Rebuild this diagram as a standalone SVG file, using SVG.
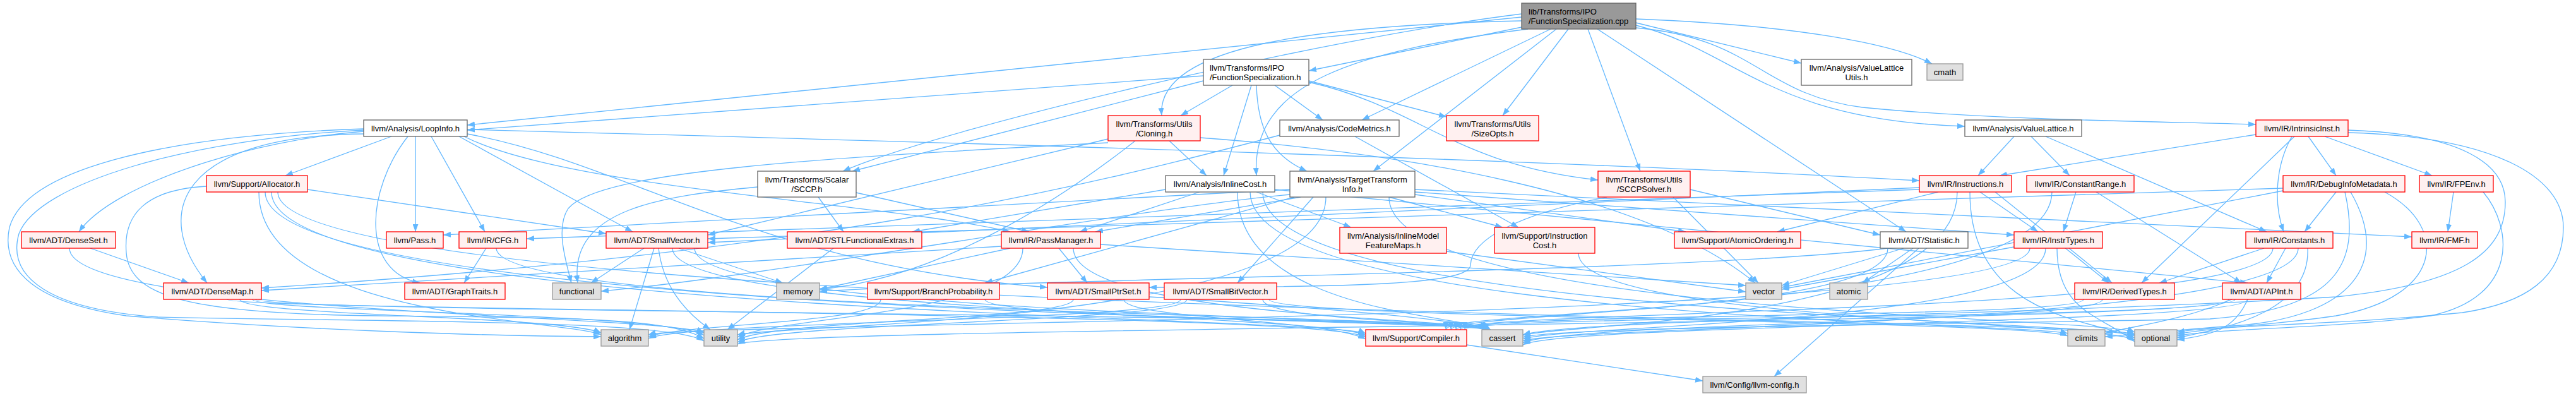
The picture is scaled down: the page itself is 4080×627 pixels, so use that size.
<svg xmlns="http://www.w3.org/2000/svg" width="4080" height="627" viewBox="0 0 4080 627">
<defs>
<marker id="a" viewBox="0 0 12 9" refX="12" refY="4.5" markerWidth="12" markerHeight="9" markerUnits="userSpaceOnUse" orient="auto"><path d="M0,0L12,4.5L0,9z" fill="#63b8ff"/></marker>
<style>
.e path{fill:none;stroke:#63b8ff;stroke-width:1.3;marker-end:url(#a)}
.node rect{stroke-width:1.3}
.r{fill:#fff0f0;stroke:#ff0000}
.w{fill:#ffffff;stroke:#666666}
.g{fill:#e0e0e0;stroke:#999999}
.m{fill:#999999;stroke:#666666}
text{font-family:"Liberation Sans",Arial,Helvetica,sans-serif;font-size:13px;fill:#000000;text-anchor:middle}
text.l{text-anchor:start}
</style>
</defs>
<rect x="0" y="0" width="4080" height="627" fill="#ffffff"/>
<g id="edges" class="e">
<path d="M2410,43 L2073,112"/>
<path d="M2530,46 L3019,367"/>
<path d="M2456,46 L2157,190"/>
<path d="M2420,46 C2150,80 1980,130 1990,278"/>
<path d="M2410,27 L740,198"/>
<path d="M2465,46 L2175,271"/>
<path d="M2591,40 C2750,80 2800,190 3112,200"/>
<path d="M2591,36 L2853,100"/>
<path d="M2591,44 C2780,60 2790,150 2950,170 C3150,190 3400,192 3573,197"/>
<path d="M2410,22 C2100,60 1500,200 1335,271"/>
<path d="M2410,33 C2100,40 1830,70 1840,183"/>
<path d="M2515,46 L2598,271"/>
<path d="M2484,46 L2380,183"/>
<path d="M2591,30 C2850,40 3000,70 3060,101"/>
<path d="M2019,135 L2095,190"/>
<path d="M1982,135 L1938,278"/>
<path d="M1906,120 L740,206"/>
<path d="M1990,135 C1992,200 2010,245 2070,271"/>
<path d="M1906,128 L1350,271"/>
<path d="M1952,135 L1870,183"/>
<path d="M2073,130 C2250,170 2300,260 2531,285"/>
<path d="M2073,128 L2291,185"/>
<path d="M576,212 C280,215 240,340 328,448"/>
<path d="M576,208 C400,222 180,290 125,367"/>
<path d="M646,216 C580,300 570,430 665,448"/>
<path d="M740,212 C1000,260 1200,420 1659,455"/>
<path d="M727,216 L1002,367"/>
<path d="M683,216 L768,367"/>
<path d="M740,205 C1500,225 2500,255 3040,286"/>
<path d="M735,216 C900,300 1400,320 1600,367"/>
<path d="M658,216 L658,367"/>
<path d="M620,216 L452,278"/>
<path d="M576,204 C250,215 40,270 15,360 C0,430 60,480 200,500 C500,525 800,532 952,533"/>
<path d="M576,206 C300,220 60,290 30,370 C10,440 80,490 250,502 C600,510 1060,505 1115,540"/>
<path d="M2027,214 C1700,300 1300,400 414,456"/>
<path d="M2146,216 L2405,360"/>
<path d="M3217,216 L3278,278"/>
<path d="M3240,216 L3590,367"/>
<path d="M3190,216 L3133,278"/>
<path d="M3630,216 C3605,260 3600,320 3617,367"/>
<path d="M3656,216 L3700,278"/>
<path d="M3634,216 L3392,448"/>
<path d="M3682,216 L3852,278"/>
<path d="M3573,213 L3167,278"/>
<path d="M3719,206 C3900,212 3968,260 3968,320 C3968,400 3900,450 3700,470 C3200,500 2500,505 2412,530"/>
<path d="M3719,210 C3950,216 4060,280 4060,360 C4060,440 4000,480 3900,495 C3700,515 3508,515 3448,526"/>
<path d="M1755,220 L1121,372"/>
<path d="M1852,223 L1911,278"/>
<path d="M1755,226 C1300,250 950,270 900,330 C880,360 895,410 905,448"/>
<path d="M1798,223 C1700,300 1500,440 1298,458"/>
<path d="M1901,218 C2200,240 2600,300 2780,448"/>
<path d="M1296,312 L1336,367"/>
<path d="M1356,305 L1630,367"/>
<path d="M1200,296 C1050,310 900,330 915,448"/>
<path d="M2080,312 L1960,448"/>
<path d="M2241,300 L3820,375"/>
<path d="M2241,304 L3190,372"/>
<path d="M2060,312 L1735,367"/>
<path d="M2043,300 L702,372"/>
<path d="M2241,308 L2670,367"/>
<path d="M2050,312 L1560,448"/>
<path d="M2200,312 L2380,360"/>
<path d="M2043,308 C1800,330 1200,440 952,461"/>
<path d="M2200,312 C2200,500 3321,500 3381,526"/>
<path d="M2100,312 C2100,514 1228,514 1168,530"/>
<path d="M2545,312 C2400,340 2330,380 2329,420 C2328,450 2150,455 1820,455"/>
<path d="M2677,300 L2978,372"/>
<path d="M2650,312 L2785,448"/>
<path d="M487,300 L960,370"/>
<path d="M430,304 C430,500 2103,500 2163,528"/>
<path d="M410,304 C410,505 892,505 952,530"/>
<path d="M420,304 C420,503 2335,503 2352,522"/>
<path d="M440,304 C440,502 3321,502 3381,529"/>
<path d="M327,295 C230,300 195,340 200,400 C205,470 300,497 600,500 C900,503 1060,503 1115,536"/>
<path d="M2019,300 L3560,448"/>
<path d="M1846,300 L1445,367"/>
<path d="M1990,304 L2140,360"/>
<path d="M1900,304 L1710,367"/>
<path d="M1960,304 C1960,500 2340,500 2355,522"/>
<path d="M1980,304 C1980,510 3215,510 3275,528"/>
<path d="M2000,304 C2000,504 3321,504 3381,532"/>
<path d="M3040,297 L1121,384"/>
<path d="M3040,300 L834,378"/>
<path d="M3160,304 L3340,448"/>
<path d="M3136,304 L3228,367"/>
<path d="M3070,304 L2815,367"/>
<path d="M3100,304 C3100,512 2472,512 2412,531"/>
<path d="M3120,304 C3120,506 3321,506 3381,535"/>
<path d="M3320,304 L3550,448"/>
<path d="M3288,304 L3268,367"/>
<path d="M3250,304 C3250,495 2298,490 2298,522"/>
<path d="M3616,298 L1121,378"/>
<path d="M3700,304 L3650,367"/>
<path d="M3714,304 C3740,420 3700,490 3500,505 C3000,515 2472,518 2412,534"/>
<path d="M3723,304 C3790,420 3720,500 3550,515 C3450,522 3380,530 3334,533"/>
<path d="M3777,304 C3880,360 3870,470 3700,500 C3600,515 3508,518 3448,529"/>
<path d="M3616,302 L2822,455"/>
<path d="M3886,304 L3877,367"/>
<path d="M3933,304 C3980,360 3990,470 3850,500 C3700,520 3508,520 3448,532"/>
<path d="M143,393 L299,448"/>
<path d="M110,393 C110,498 1055,498 1115,527"/>
<path d="M770,393 L735,448"/>
<path d="M786,393 C786,498 2335,498 2354,522"/>
<path d="M1065,393 C1065,496 2103,496 2163,531"/>
<path d="M1036,393 L997,522"/>
<path d="M1100,393 C1100,502 2338,502 2356,522"/>
<path d="M1020,393 L936,448"/>
<path d="M1075,393 L1240,448"/>
<path d="M1043,393 C1050,450 1080,490 1125,522"/>
<path d="M1320,393 L1152,522"/>
<path d="M1586,390 L414,460"/>
<path d="M1677,393 L1722,448"/>
<path d="M1700,393 C1700,504 2340,504 2358,522"/>
<path d="M1600,393 L1298,458"/>
<path d="M1620,393 C1620,500 1228,500 1168,534"/>
<path d="M1743,387 L2765,452"/>
<path d="M2291,398 L2765,462"/>
<path d="M2500,401 C2500,508 3321,508 3381,538"/>
<path d="M3039,393 L2810,596"/>
<path d="M2990,393 C2990,500 2290,490 2290,522"/>
<path d="M3030,393 L2950,448"/>
<path d="M2990,393 C2700,430 1700,440 1298,461"/>
<path d="M3015,393 L2822,452"/>
<path d="M3277,393 L3345,448"/>
<path d="M3215,393 C3215,510 1087,510 1027,530"/>
<path d="M3240,393 C3240,514 2472,514 2412,537"/>
<path d="M3258,393 C3258,495 3330,500 3381,541"/>
<path d="M3190,391 L2822,458"/>
<path d="M3620,393 L3590,448"/>
<path d="M3586,393 L3420,448"/>
<path d="M3600,393 C3600,500 2306,490 2306,522"/>
<path d="M3640,393 C3640,516 2472,516 2412,540"/>
<path d="M3655,393 C3660,500 3508,522 3448,535"/>
<path d="M360,474 C360,492 2103,492 2163,534"/>
<path d="M380,474 C380,500 892,500 952,527"/>
<path d="M405,474 C405,496 2336,496 2353,522"/>
<path d="M400,474 C400,494 1055,494 1115,531"/>
<path d="M1395,474 C1395,512 1087,512 1027,533"/>
<path d="M1560,474 C1560,507 2340,507 2358,522"/>
<path d="M1780,474 C1780,505 2103,505 2163,537"/>
<path d="M1820,470 C1900,475 2300,500 2360,522"/>
<path d="M1700,474 C1700,506 1228,506 1168,538"/>
<path d="M1870,474 C1870,508 1087,508 1027,536"/>
<path d="M2000,474 C2000,509 2342,509 2361,522"/>
<path d="M2010,474 C2010,506 3215,506 3275,532"/>
<path d="M1880,474 C1880,510 1228,510 1168,542"/>
<path d="M3300,474 C3300,505 2313,495 2313,522"/>
<path d="M3330,474 C3330,511 2472,511 2412,543"/>
<path d="M3530,474 C3530,508 2320,497 2320,522"/>
<path d="M3560,474 C3560,513 2472,513 2412,546"/>
<path d="M3535,474 C3450,510 3380,515 3334,528"/>
<path d="M3560,474 C3540,520 3508,530 3448,538"/>
<path d="M3540,474 C3540,516 1228,516 1168,545"/>
<path d="M2323,546 L2697,603"/>
</g>
<g id="n-main" class="node"><rect class="m" x="2410" y="5" width="181" height="41"/><text class="l" x="2421" y="23">lib/Transforms/IPO</text><text class="l" x="2421" y="38">/FunctionSpecialization.cpp</text></g>
<g id="n-fsh" class="node"><rect class="w" x="1906" y="94" width="167" height="41"/><text class="l" x="1916" y="112">llvm/Transforms/IPO</text><text class="l" x="1916" y="127">/FunctionSpecialization.h</text></g>
<g id="n-vlu" class="node"><rect class="w" x="2853" y="94" width="175" height="41"/><text x="2940.5" y="112">llvm/Analysis/ValueLattice</text><text x="2940.5" y="127">Utils.h</text></g>
<g id="n-cmath" class="node"><rect class="g" x="3052" y="101" width="57" height="26"/><text x="3080.5" y="119">cmath</text></g>
<g id="n-loopinfo" class="node"><rect class="w" x="576" y="190" width="164" height="26"/><text x="658" y="208">llvm/Analysis/LoopInfo.h</text></g>
<g id="n-codemetrics" class="node"><rect class="w" x="2027" y="190" width="189" height="26"/><text x="2121.5" y="208">llvm/Analysis/CodeMetrics.h</text></g>
<g id="n-valuelattice" class="node"><rect class="w" x="3112" y="190" width="185" height="26"/><text x="3204.5" y="208">llvm/Analysis/ValueLattice.h</text></g>
<g id="n-intrinsic" class="node"><rect class="r" x="3573" y="190" width="146" height="26"/><text x="3646" y="208">llvm/IR/IntrinsicInst.h</text></g>
<g id="n-cloning" class="node"><rect class="r" x="1755" y="183" width="146" height="40"/><text x="1828" y="200.5">llvm/Transforms/Utils</text><text x="1828" y="215.5">/Cloning.h</text></g>
<g id="n-sizeopts" class="node"><rect class="r" x="2291" y="183" width="146" height="40"/><text x="2364" y="200.5">llvm/Transforms/Utils</text><text x="2364" y="215.5">/SizeOpts.h</text></g>
<g id="n-sccp" class="node"><rect class="w" x="1200" y="271" width="156" height="41"/><text x="1278" y="289">llvm/Transforms/Scalar</text><text x="1278" y="304">/SCCP.h</text></g>
<g id="n-tti" class="node"><rect class="w" x="2043" y="271" width="198" height="41"/><text x="2142" y="289">llvm/Analysis/TargetTransform</text><text x="2142" y="304">Info.h</text></g>
<g id="n-sccpsolver" class="node"><rect class="r" x="2531" y="271" width="146" height="41"/><text x="2604" y="289">llvm/Transforms/Utils</text><text x="2604" y="304">/SCCPSolver.h</text></g>
<g id="n-allocator" class="node"><rect class="r" x="327" y="278" width="160" height="26"/><text x="407" y="296">llvm/Support/Allocator.h</text></g>
<g id="n-inlinecost" class="node"><rect class="w" x="1846" y="278" width="173" height="26"/><text x="1932.5" y="296">llvm/Analysis/InlineCost.h</text></g>
<g id="n-instructions" class="node"><rect class="r" x="3040" y="278" width="146" height="26"/><text x="3113" y="296">llvm/IR/Instructions.h</text></g>
<g id="n-constantrange" class="node"><rect class="r" x="3210" y="278" width="170" height="26"/><text x="3295" y="296">llvm/IR/ConstantRange.h</text></g>
<g id="n-debuginfo" class="node"><rect class="r" x="3616" y="278" width="193" height="26"/><text x="3712.5" y="296">llvm/IR/DebugInfoMetadata.h</text></g>
<g id="n-fpenv" class="node"><rect class="r" x="3832" y="278" width="117" height="26"/><text x="3890.5" y="296">llvm/IR/FPEnv.h</text></g>
<g id="n-denseset" class="node"><rect class="r" x="34" y="367" width="149" height="26"/><text x="108.5" y="385">llvm/ADT/DenseSet.h</text></g>
<g id="n-pass" class="node"><rect class="r" x="612" y="367" width="90" height="26"/><text x="657" y="385">llvm/Pass.h</text></g>
<g id="n-cfg" class="node"><rect class="r" x="727" y="367" width="107" height="26"/><text x="780.5" y="385">llvm/IR/CFG.h</text></g>
<g id="n-smallvector" class="node"><rect class="r" x="960" y="367" width="161" height="26"/><text x="1040.5" y="385">llvm/ADT/SmallVector.h</text></g>
<g id="n-stlfe" class="node"><rect class="r" x="1247" y="367" width="213" height="26"/><text x="1353.5" y="385">llvm/ADT/STLFunctionalExtras.h</text></g>
<g id="n-passmanager" class="node"><rect class="r" x="1586" y="367" width="157" height="26"/><text x="1664.5" y="385">llvm/IR/PassManager.h</text></g>
<g id="n-inlinemodel" class="node"><rect class="r" x="2122" y="360" width="169" height="41"/><text x="2206.5" y="378">llvm/Analysis/InlineModel</text><text x="2206.5" y="393">FeatureMaps.h</text></g>
<g id="n-instcost" class="node"><rect class="r" x="2367" y="360" width="159" height="41"/><text x="2446.5" y="378">llvm/Support/Instruction</text><text x="2446.5" y="393">Cost.h</text></g>
<g id="n-atomicord" class="node"><rect class="r" x="2652" y="367" width="200" height="26"/><text x="2752" y="385">llvm/Support/AtomicOrdering.h</text></g>
<g id="n-statistic" class="node"><rect class="w" x="2978" y="367" width="139" height="26"/><text x="3047.5" y="385">llvm/ADT/Statistic.h</text></g>
<g id="n-instrtypes" class="node"><rect class="r" x="3190" y="367" width="140" height="26"/><text x="3260" y="385">llvm/IR/InstrTypes.h</text></g>
<g id="n-constants" class="node"><rect class="r" x="3557" y="367" width="138" height="26"/><text x="3626" y="385">llvm/IR/Constants.h</text></g>
<g id="n-fmf" class="node"><rect class="r" x="3820" y="367" width="104" height="26"/><text x="3872" y="385">llvm/IR/FMF.h</text></g>
<g id="n-densemap" class="node"><rect class="r" x="259" y="448" width="155" height="26"/><text x="336.5" y="466">llvm/ADT/DenseMap.h</text></g>
<g id="n-graphtraits" class="node"><rect class="r" x="641" y="448" width="159" height="26"/><text x="720.5" y="466">llvm/ADT/GraphTraits.h</text></g>
<g id="n-functional" class="node"><rect class="g" x="875" y="448" width="77" height="26"/><text x="913.5" y="466">functional</text></g>
<g id="n-memory" class="node"><rect class="g" x="1230" y="448" width="68" height="26"/><text x="1264" y="466">memory</text></g>
<g id="n-branchprob" class="node"><rect class="r" x="1374" y="448" width="209" height="26"/><text x="1478.5" y="466">llvm/Support/BranchProbability.h</text></g>
<g id="n-smallptrset" class="node"><rect class="r" x="1659" y="448" width="161" height="26"/><text x="1739.5" y="466">llvm/ADT/SmallPtrSet.h</text></g>
<g id="n-smallbitvector" class="node"><rect class="r" x="1844" y="448" width="178" height="26"/><text x="1933" y="466">llvm/ADT/SmallBitVector.h</text></g>
<g id="n-vector" class="node"><rect class="g" x="2765" y="448" width="57" height="26"/><text x="2793.5" y="466">vector</text></g>
<g id="n-atomic" class="node"><rect class="g" x="2898" y="448" width="60" height="26"/><text x="2928" y="466">atomic</text></g>
<g id="n-derivedtypes" class="node"><rect class="r" x="3286" y="448" width="158" height="26"/><text x="3365" y="466">llvm/IR/DerivedTypes.h</text></g>
<g id="n-apint" class="node"><rect class="r" x="3520" y="448" width="124" height="26"/><text x="3582" y="466">llvm/ADT/APInt.h</text></g>
<g id="n-algorithm" class="node"><rect class="g" x="952" y="522" width="75" height="26"/><text x="989.5" y="540">algorithm</text></g>
<g id="n-utility" class="node"><rect class="g" x="1115" y="522" width="53" height="26"/><text x="1141.5" y="540">utility</text></g>
<g id="n-compiler" class="node"><rect class="r" x="2163" y="522" width="160" height="26"/><text x="2243" y="540">llvm/Support/Compiler.h</text></g>
<g id="n-cassert" class="node"><rect class="g" x="2347" y="522" width="65" height="26"/><text x="2379.5" y="540">cassert</text></g>
<g id="n-climits" class="node"><rect class="g" x="3275" y="522" width="59" height="26"/><text x="3304.5" y="540">climits</text></g>
<g id="n-optional" class="node"><rect class="g" x="3381" y="522" width="67" height="26"/><text x="3414.5" y="540">optional</text></g>
<g id="n-llvmconfig" class="node"><rect class="g" x="2697" y="596" width="164" height="26"/><text x="2779" y="614">llvm/Config/llvm-config.h</text></g>
</svg>
